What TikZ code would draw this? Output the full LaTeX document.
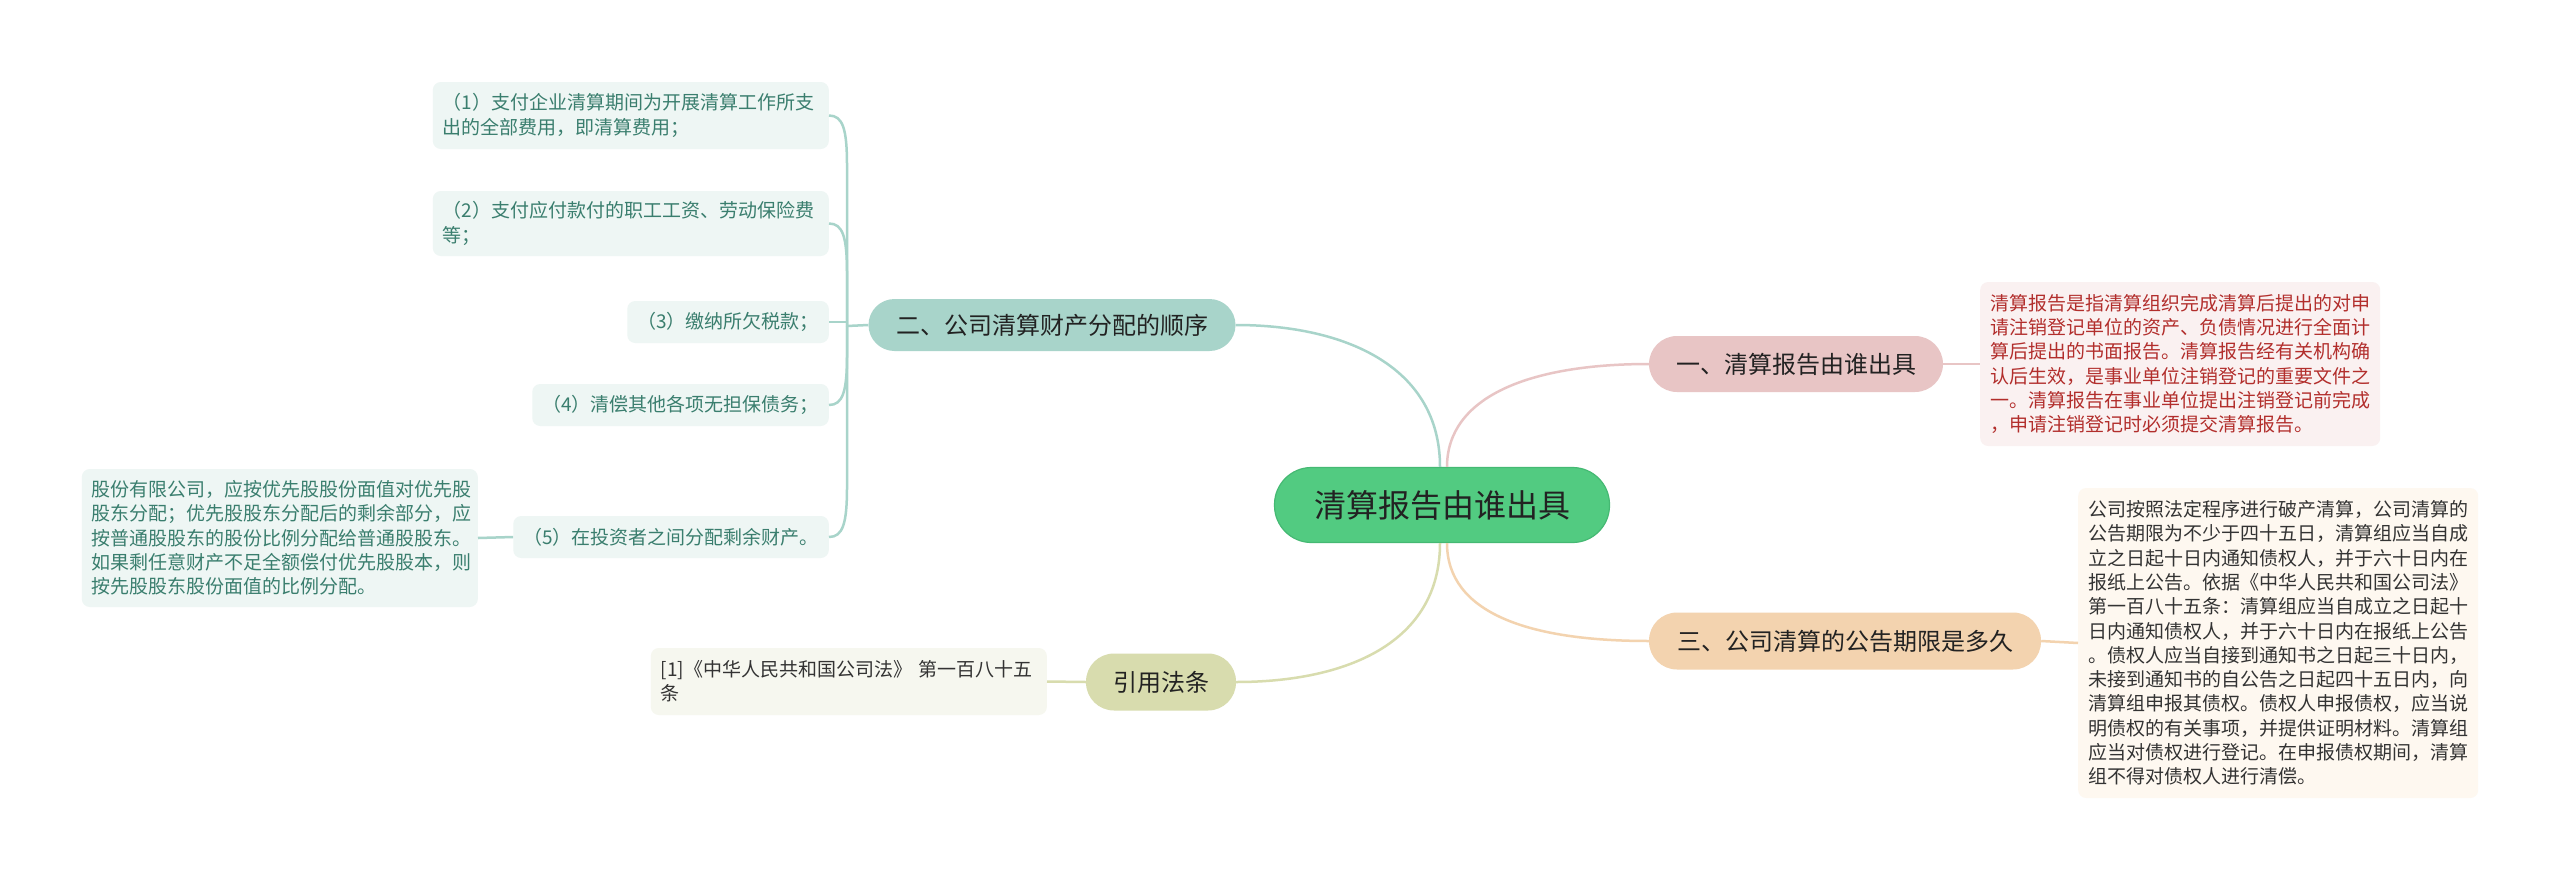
\documentclass[tikz,border=0pt]{standalone}
\usepackage{fontspec}
\setmainfont{Noto Sans CJK SC}
\usetikzlibrary{calc}
\definecolor{cgreen}{HTML}{52CB81}
\definecolor{cgreenD}{HTML}{45B973}
\definecolor{tealF}{HTML}{A8D4CA}
\definecolor{pinkF}{HTML}{E8C5C5}
\definecolor{peachF}{HTML}{F3D3AF}
\definecolor{oliveF}{HTML}{D8DCAE}
\definecolor{tealBox}{HTML}{EEF6F4}
\definecolor{tealTxt}{HTML}{3A7E6E}
\definecolor{pinkBox}{HTML}{FAF1F1}
\definecolor{redTxt}{HTML}{B22E2C}
\definecolor{peachBox}{HTML}{FEF8F0}
\definecolor{oliveBox}{HTML}{F6F7EF}
\definecolor{darkTxt}{HTML}{333333}
\definecolor{mainTxt}{HTML}{222222}
\begin{document}
\begin{tikzpicture}[x=1pt,y=-1pt,
  pill/.style={inner sep=0pt, text=mainTxt, font=\fontsize{24}{28}\selectfont},
  leaf/.style={rounded corners=8pt, font=\fontsize{19}{24.3}\selectfont,
    inner xsep=10pt, inner ysep=0pt, align=left},
  tleaf/.style={leaf, fill=tealBox, text=tealTxt},
  conn/.style={line width=2.5pt}
]
\fill[white] (0,0) rectangle (2560,881);
\useasboundingbox (0,0) rectangle (2560,881);

% central node
\node[pill, fill=cgreen, draw=cgreenD, line width=1.2pt, rounded corners=37pt,
  minimum width=335pt, minimum height=75pt, font=\fontsize{32}{36}\selectfont] (c) at (1442,505) {清算报告由谁出具};

% branches
\node[pill, fill=tealF, rounded corners=26pt, minimum width=367pt, minimum height=52pt] (b2) at (1052,325) {二、公司清算财产分配的顺序};
\node[pill, fill=oliveF, rounded corners=28pt, minimum width=150pt, minimum height=57pt] (b4) at (1161,682) {引用法条};
\node[pill, fill=pinkF, rounded corners=28pt, minimum width=294pt, minimum height=56pt] (b1) at (1796,364) {一、清算报告由谁出具};
\node[pill, fill=peachF, rounded corners=28pt, minimum width=392pt, minimum height=57pt] (b3) at (1845,641) {三、公司清算的公告期限是多久};

% leaves of b2
\node[tleaf, anchor=east, text width=376pt, minimum height=67pt] (k1) at (829,115.5)
  {（1）支付企业清算期间为开展清算工作所支\\出的全部费用，即清算费用；};
\node[tleaf, anchor=east, text width=376pt, minimum height=65pt] (k2) at (829,223.5)
  {（2）支付应付款付的职工工资、劳动保险费\\等；};
\node[tleaf, anchor=east, minimum height=42pt] (k3) at (829,322) {（3）缴纳所欠税款；};
\node[tleaf, anchor=east, minimum height=42pt] (k4) at (829,405) {（4）清偿其他各项无担保债务；};
\node[tleaf, anchor=east, minimum height=42pt] (k5) at (829,537) {（5）在投资者之间分配剩余财产。};
\node[tleaf, anchor=east, text width=376pt, minimum height=138pt] (gf) at (478,538)
  {股份有限公司，应按优先股股份面值对优先股\\股东分配；优先股股东分配后的剩余部分，应\\按普通股股东的股份比例分配给普通股股东。\\如果剩任意财产不足全额偿付优先股股本，则\\按先股股东股份面值的比例分配。};

% reference leaf
\node[leaf, fill=oliveBox, text=darkTxt, anchor=east, text width=376pt, minimum height=67pt] (ref) at (1047,681.5)
  {[1]《中华人民共和国公司法》 第一百八十五\\条};

% right leaves
\node[leaf, fill=pinkBox, text=redTxt, anchor=west, text width=380pt, minimum height=164pt] (t1) at (1980,364)
  {清算报告是指清算组织完成清算后提出的对申\\请注销登记单位的资产、负债情况进行全面计\\算后提出的书面报告。清算报告经有关机构确\\认后生效，是事业单位注销登记的重要文件之\\一。清算报告在事业单位提出注销登记前完成\\，申请注销登记时必须提交清算报告。};
\node[leaf, fill=peachBox, text=darkTxt, anchor=west, text width=380pt, minimum height=310pt] (t3) at (2078,643)
  {公司按照法定程序进行破产清算，公司清算的\\公告期限为不少于四十五日，清算组应当自成\\立之日起十日内通知债权人，并于六十日内在\\报纸上公告。依据《中华人民共和国公司法》\\第一百八十五条：清算组应当自成立之日起十\\日内通知债权人，并于六十日内在报纸上公告\\。债权人应当自接到通知书之日起三十日内，\\未接到通知书的自公告之日起四十五日内，向\\清算组申报其债权。债权人申报债权，应当说\\明债权的有关事项，并提供证明材料。清算组\\应当对债权进行登记。在申报债权期间，清算\\组不得对债权人进行清偿。};

% connectors from center
\draw[conn, tealF] ([xshift=-2pt]c.north) .. controls +(0,-100) and +(110,0) .. (b2.east);
\draw[conn, oliveF] ([xshift=-2pt]c.south) .. controls +(0,100) and +(110,0) .. (b4.east);
\draw[conn, pinkF] ([xshift=5pt]c.north) .. controls +(0,-70) and +(-120,0) .. (b1.west);
\draw[conn, peachF] ([xshift=5pt]c.south) .. controls +(0,70) and +(-120,0) .. (b3.west);

% tree of b2
\coordinate (stem) at (847,326);
\draw[conn, tealF] (b2.west) -- (stem);
\draw[conn, tealF] (k1.east) .. controls +(14,0) and +(0,-36) .. ($(k1.east)+(18,50)$) -- (stem);
\draw[conn, tealF] (k2.east) .. controls +(14,0) and +(0,-36) .. ($(k2.east)+(18,50)$) -- (stem);
\draw[conn, tealF] (k3.east) -- (k3.east -| stem);
\draw[conn, tealF] (k4.east) .. controls +(14,0) and +(0,36) .. ($(k4.east)+(18,-50)$) -- (stem);
\draw[conn, tealF] (k5.east) .. controls +(14,0) and +(0,36) .. ($(k5.east)+(18,-50)$) -- (stem);
\draw[conn, tealF] (k5.west) -- (gf.east);

% other leaf links
\draw[conn, oliveF] (b4.west) -- (ref.east);
\draw[conn, pinkF] (b1.east) -- (t1.west);
\draw[conn, peachF] (b3.east) -- (t3.west);
\end{tikzpicture}
\end{document}
